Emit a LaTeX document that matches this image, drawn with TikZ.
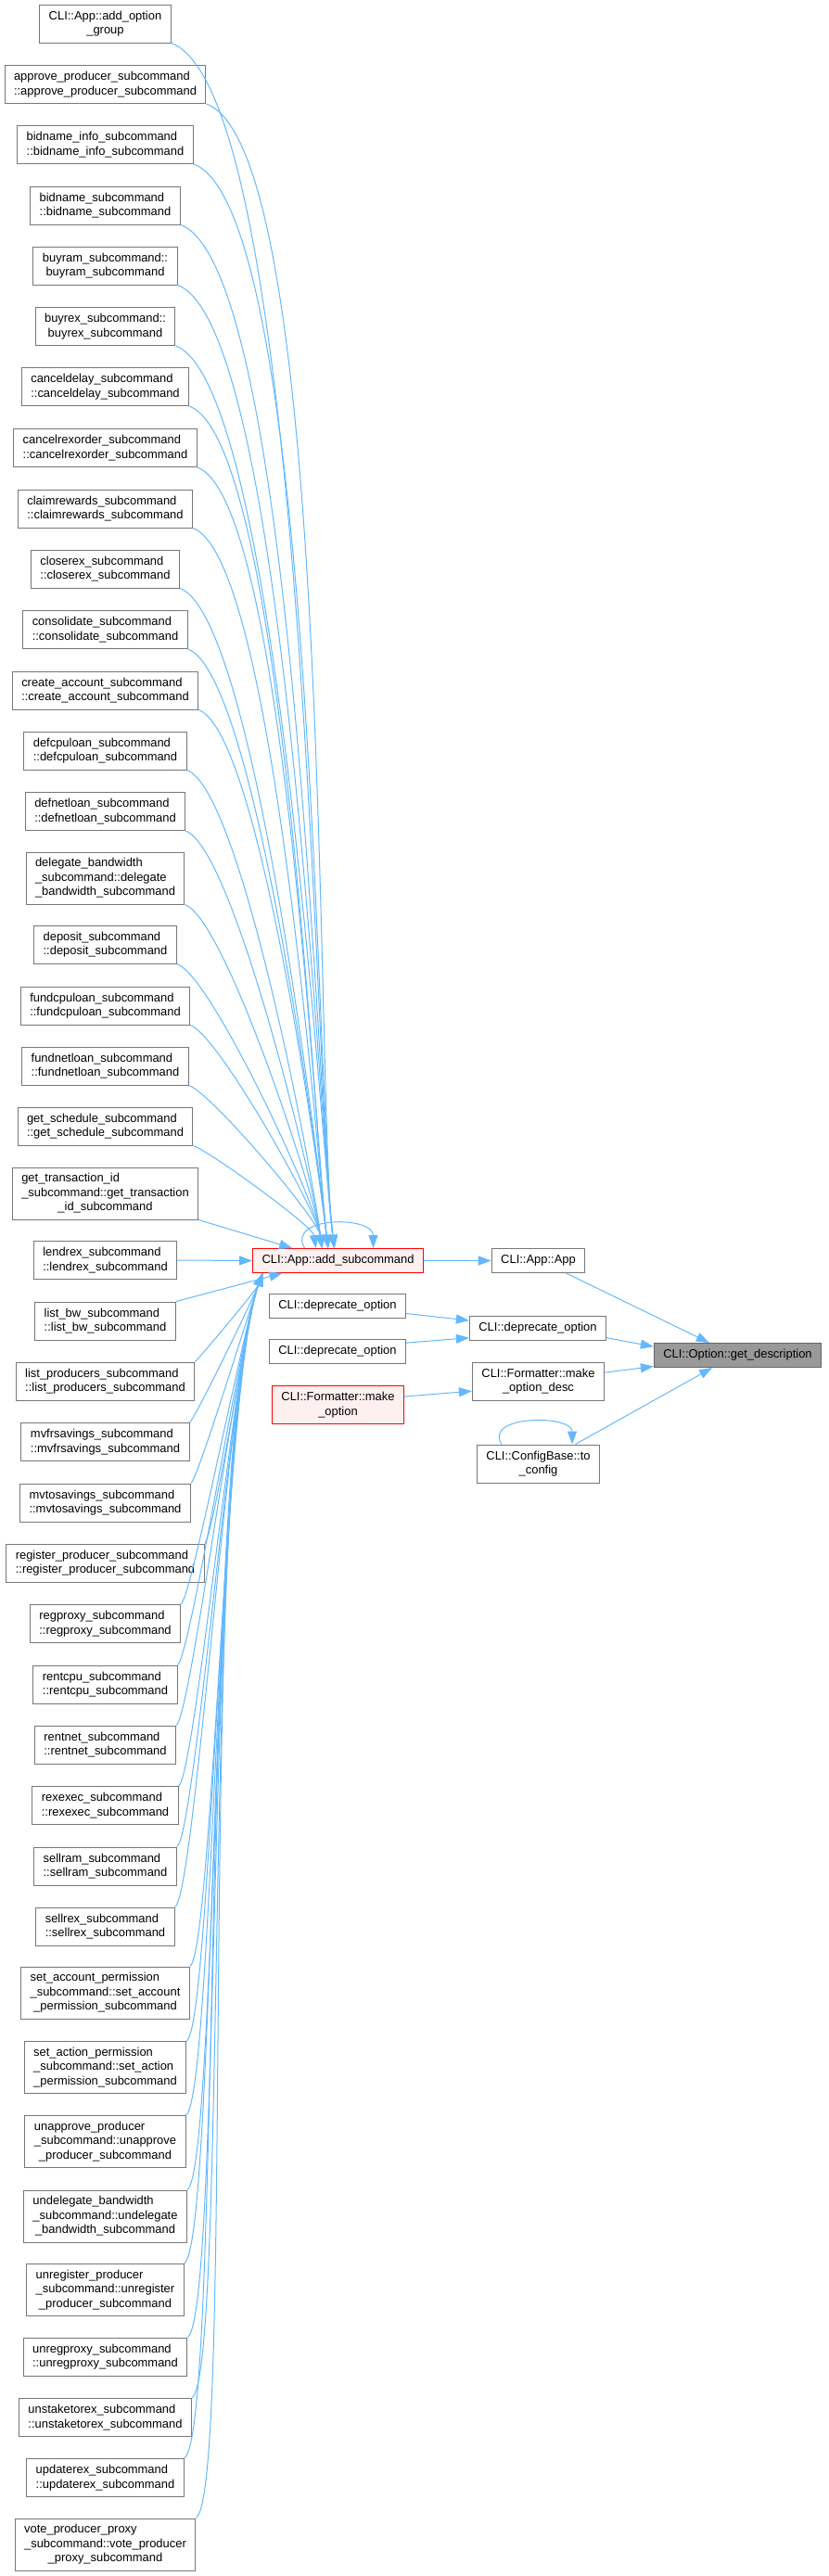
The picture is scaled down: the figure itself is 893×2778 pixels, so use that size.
\documentclass[tikz,border=0pt]{standalone}
\usepackage{fontspec}
\setmainfont{Liberation Sans}
\usepackage{tikz}
\usetikzlibrary{arrows.meta}
\definecolor{edgeblue}{HTML}{63B8FF}
\definecolor{boxgray}{HTML}{777777}
\definecolor{redfill}{HTML}{FFF0F0}
\definecolor{gdfill}{HTML}{999999}
\definecolor{gdline}{HTML}{666666}
\newcommand{\midln}[1]{\hfill#1\hfill\null}

\begin{document}
\begin{tikzpicture}[x=0.75pt, y=0.75pt,
  every node/.style={font=\fontsize{9.7}{11.6}\selectfont},
  fn/.style={rectangle, draw=boxgray, fill=white, line width=0.75pt, align=left, inner xsep=7.5pt, minimum height=30.75pt},
  one/.style={minimum height=19.5pt},
  three/.style={minimum height=42pt},
  hit/.style={fn, draw=red, fill=redfill},
  target/.style={fn, one, draw=gdline, fill=gdfill},
  arr/.style={-{Triangle[length=10.5pt,width=7.5pt]}, draw=edgeblue, line width=0.75pt},
  up/.style={out=-20, in=97, out looseness=0.3, in looseness=0.35},
  down/.style={out=35, in=-110, out looseness=0.1, in looseness=0.4}]
\useasboundingbox (0,0) rectangle (893,-2778);
% callers of add_subcommand
\node[fn] (optgrp) at (113.5,-25.5) {CLI::App::add\_option\\\midln{\_group}};
\node[fn] (approve) at (113.5,-91) {approve\_producer\_subcommand\\\midln{::approve\_producer\_subcommand}};
\node[fn] (bidinfo) at (113.5,-156) {bidname\_info\_subcommand\\\midln{::bidname\_info\_subcommand}};
\node[fn] (bidname) at (113.5,-221.5) {bidname\_subcommand\\\midln{::bidname\_subcommand}};
\node[fn] (buyram) at (113.5,-286.5) {buyram\_subcommand::\\\midln{buyram\_subcommand}};
\node[fn] (buyrex) at (113.5,-352) {buyrex\_subcommand::\\\midln{buyrex\_subcommand}};
\node[fn] (canceldelay) at (113.5,-417) {canceldelay\_subcommand\\\midln{::canceldelay\_subcommand}};
\node[fn] (cancelrex) at (113.5,-483) {cancelrexorder\_subcommand\\\midln{::cancelrexorder\_subcommand}};
\node[fn] (claim) at (113.5,-548.5) {claimrewards\_subcommand\\\midln{::claimrewards\_subcommand}};
\node[fn] (closerex) at (113.5,-613.5) {closerex\_subcommand\\\midln{::closerex\_subcommand}};
\node[fn] (consol) at (113.5,-679) {consolidate\_subcommand\\\midln{::consolidate\_subcommand}};
\node[fn] (createacc) at (113.5,-744.5) {create\_account\_subcommand\\\midln{::create\_account\_subcommand}};
\node[fn] (defcpu) at (113.5,-809.5) {defcpuloan\_subcommand\\\midln{::defcpuloan\_subcommand}};
\node[fn] (defnet) at (113.5,-875) {defnetloan\_subcommand\\\midln{::defnetloan\_subcommand}};
\node[fn, three] (delegate) at (113.5,-947) {delegate\_bandwidth\\\_subcommand::delegate\\\midln{\_bandwidth\_subcommand}};
\node[fn] (deposit) at (113.5,-1018.5) {deposit\_subcommand\\\midln{::deposit\_subcommand}};
\node[fn] (fundcpu) at (113.5,-1084.5) {fundcpuloan\_subcommand\\\midln{::fundcpuloan\_subcommand}};
\node[fn] (fundnet) at (113.5,-1149.5) {fundnetloan\_subcommand\\\midln{::fundnetloan\_subcommand}};
\node[fn] (getsched) at (113.5,-1214.5) {get\_schedule\_subcommand\\\midln{::get\_schedule\_subcommand}};
\node[fn, three] (gettrx) at (113.5,-1287) {get\_transaction\_id\\\_subcommand::get\_transaction\\\midln{\_id\_subcommand}};
\node[fn] (lendrex) at (113.5,-1359) {lendrex\_subcommand\\\midln{::lendrex\_subcommand}};
\node[fn] (listbw) at (113.5,-1424.5) {list\_bw\_subcommand\\\midln{::list\_bw\_subcommand}};
\node[fn] (listprod) at (113.5,-1489.5) {list\_producers\_subcommand\\\midln{::list\_producers\_subcommand}};
\node[fn] (mvfr) at (113.5,-1555) {mvfrsavings\_subcommand\\\midln{::mvfrsavings\_subcommand}};
\node[fn] (mvto) at (113.5,-1620.5) {mvtosavings\_subcommand\\\midln{::mvtosavings\_subcommand}};
\node[fn] (regprod) at (113.5,-1685.5) {register\_producer\_subcommand\\\midln{::register\_producer\_subcommand}};
\node[fn] (regproxy) at (113.5,-1751) {regproxy\_subcommand\\\midln{::regproxy\_subcommand}};
\node[fn] (rentcpu) at (113.5,-1816.5) {rentcpu\_subcommand\\\midln{::rentcpu\_subcommand}};
\node[fn] (rentnet) at (113.5,-1881.5) {rentnet\_subcommand\\\midln{::rentnet\_subcommand}};
\node[fn] (rexexec) at (113.5,-1947) {rexexec\_subcommand\\\midln{::rexexec\_subcommand}};
\node[fn] (sellram) at (113.5,-2012.5) {sellram\_subcommand\\\midln{::sellram\_subcommand}};
\node[fn] (sellrex) at (113.5,-2077.5) {sellrex\_subcommand\\\midln{::sellrex\_subcommand}};
\node[fn, three] (setacc) at (113.5,-2149) {set\_account\_permission\\\_subcommand::set\_account\\\midln{\_permission\_subcommand}};
\node[fn, three] (setact) at (113.5,-2229.5) {set\_action\_permission\\\_subcommand::set\_action\\\midln{\_permission\_subcommand}};
\node[fn, three] (unapprove) at (113.5,-2309.5) {unapprove\_producer\\\_subcommand::unapprove\\\midln{\_producer\_subcommand}};
\node[fn, three] (undeleg) at (113.5,-2390) {undelegate\_bandwidth\\\_subcommand::undelegate\\\midln{\_bandwidth\_subcommand}};
\node[fn, three] (unregprod) at (113.5,-2469.5) {unregister\_producer\\\_subcommand::unregister\\\midln{\_producer\_subcommand}};
\node[fn] (unregproxy) at (113.5,-2541.5) {unregproxy\_subcommand\\\midln{::unregproxy\_subcommand}};
\node[fn] (unstake) at (113.5,-2607) {unstaketorex\_subcommand\\\midln{::unstaketorex\_subcommand}};
\node[fn] (updaterex) at (113.5,-2672) {updaterex\_subcommand\\\midln{::updaterex\_subcommand}};
\node[fn, three] (vote) at (113.5,-2744) {vote\_producer\_proxy\\\_subcommand::vote\_producer\\\midln{\_proxy\_subcommand}};
% middle and right
\node[hit, one] (add) at (364.5,-1359.5) {CLI::App::add\_subcommand};
\node[fn, one] (app) at (580.5,-1359.5) {CLI::App::App};
\node[fn, one] (depa) at (364,-1408.5) {CLI::deprecate\_option};
\node[fn, one] (depb) at (364,-1457.5) {CLI::deprecate\_option};
\node[hit] (mkopt) at (364.5,-1515) {CLI::Formatter::make\\\midln{\_option}};
\node[fn, one] (depmid) at (580,-1432) {CLI::deprecate\_option};
\node[fn] (mkdesc) at (580.5,-1489.5) {CLI::Formatter::make\\\midln{\_option\_desc}};
\node[fn] (cfg) at (580.5,-1578.5) {CLI::ConfigBase::to\\\midln{\_config}};
\node[target] (gd) at (795.5,-1461.5) {CLI::Option::get\_description};
% edges into add_subcommand from above
\draw[arr] (optgrp.south east) to[up] ([xshift=-3pt]add.north);
\draw[arr] (approve.south east) to[up] ([xshift=-3pt]add.north);
\draw[arr] (bidinfo.south east) to[up] ([xshift=-3pt]add.north);
\draw[arr] (bidname.south east) to[up] ([xshift=-3pt]add.north);
\draw[arr] (buyram.south east) to[up] ([xshift=-3pt]add.north);
\draw[arr] (buyrex.south east) to[up] ([xshift=-3pt]add.north);
\draw[arr] (canceldelay.south east) to[up] ([xshift=-8pt]add.north);
\draw[arr] (cancelrex.south east) to[up] ([xshift=-8pt]add.north);
\draw[arr] (claim.south east) to[up] ([xshift=-8pt]add.north);
\draw[arr] (closerex.south east) to[up] ([xshift=-8pt]add.north);
\draw[arr] (consol.south east) to[up] ([xshift=-8pt]add.north);
\draw[arr] (createacc.south east) to[up] ([xshift=-8pt]add.north);
\draw[arr] (defcpu.south east) to[up] ([xshift=-13pt]add.north);
\draw[arr] (defnet.south east) to[up] ([xshift=-13pt]add.north);
\draw[arr] (delegate.south east) to[up] ([xshift=-13pt]add.north);
\draw[arr] (deposit.south east) to[up] ([xshift=-13pt]add.north);
\draw[arr] (fundcpu.south east) to[up] ([xshift=-13pt]add.north);
\draw[arr] (fundnet.south east) to[up] ([xshift=-13pt]add.north);
\draw[arr] (getsched.south east) to[up] ([xshift=-18pt]add.north);
\draw[arr] (gettrx.south east) -- ([xshift=-37pt]add.north);
\draw[arr] (lendrex.east) -- (add.west);
\draw[arr] (listbw.north east) -- ([xshift=-45pt]add.south);
% edges into add_subcommand from below
\draw[arr] (listprod.north east) to[down] ([xshift=-61pt]add.south);
\draw[arr] (mvfr.north east) to[down] ([xshift=-61pt]add.south);
\draw[arr] (mvto.north east) to[down] ([xshift=-61pt]add.south);
\draw[arr] (regprod.north east) to[down] ([xshift=-61pt]add.south);
\draw[arr] (regproxy.north east) to[down] ([xshift=-61pt]add.south);
\draw[arr] (rentcpu.north east) to[down] ([xshift=-61pt]add.south);
\draw[arr] (rentnet.north east) to[down] ([xshift=-61pt]add.south);
\draw[arr] (rexexec.north east) to[down] ([xshift=-61pt]add.south);
\draw[arr] (sellram.north east) to[down] ([xshift=-61pt]add.south);
\draw[arr] (sellrex.north east) to[down] ([xshift=-61pt]add.south);
\draw[arr] (setacc.north east) to[down] ([xshift=-61pt]add.south);
\draw[arr] (setact.north east) to[down] ([xshift=-61pt]add.south);
\draw[arr] (unapprove.north east) to[down] ([xshift=-61pt]add.south);
\draw[arr] (undeleg.north east) to[down] ([xshift=-61pt]add.south);
\draw[arr] (unregprod.north east) to[down] ([xshift=-61pt]add.south);
\draw[arr] (unregproxy.north east) to[down] ([xshift=-61pt]add.south);
\draw[arr] (unstake.north east) to[down] ([xshift=-61pt]add.south);
\draw[arr] (updaterex.north east) to[down] ([xshift=-61pt]add.south);
\draw[arr] (vote.north east) to[down] ([xshift=-61pt]add.south);
% self loops
\draw[arr] ([xshift=-27pt]add.north) .. controls +(-20,35) and +(0,35) .. ([xshift=28.5pt]add.north);
\draw[arr] ([xshift=-29.6pt]cfg.north) .. controls +(-20,32) and +(0,32) .. ([xshift=27.4pt]cfg.north);
% right part
\draw[arr] (add.east) -- (app.west);
\draw[arr] ([xshift=22.5pt]app.south) -- ([xshift=-23pt]gd.north);
\draw[arr] ([yshift=-6pt]depa.east) -- ([yshift=6pt]depmid.west);
\draw[arr] ([yshift=7pt]depb.east) -- ([yshift=-8pt]depmid.west);
\draw[arr] ([yshift=-8pt]depmid.east) -- ([yshift=7pt]gd.west);
\draw[arr] ([yshift=6.75pt]mkopt.east) -- ([yshift=-8pt]mkdesc.west);
\draw[arr] ([yshift=7pt]mkdesc.east) -- ([yshift=-9pt]gd.west);
\draw[arr] ([xshift=30pt]cfg.north) -- ([xshift=-20.6pt]gd.south);
\end{tikzpicture}
\end{document}
